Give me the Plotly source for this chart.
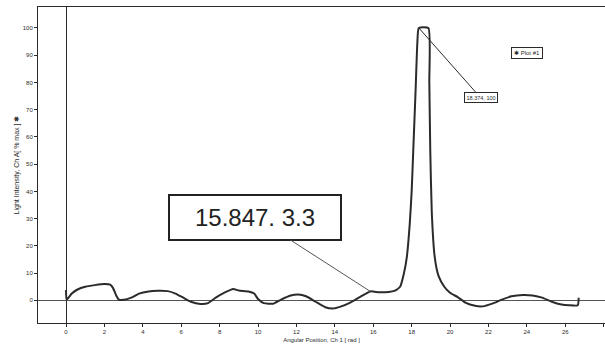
import plotly.graph_objects as go

# Angular scan of channel A light intensity (% of max)
angle = [0.0, 0.03, 0.3, 0.6, 1.0, 1.5, 2.0, 2.3, 2.45, 2.6, 2.75, 3.0, 3.4, 3.8,
         4.3, 4.8, 5.3, 5.7, 6.1, 6.5, 7.0, 7.4, 7.8, 8.3, 8.7, 9.0, 9.5, 9.8,
         10.0, 10.3, 10.8, 11.2, 11.7, 12.1, 12.5, 13.0, 13.5, 13.9, 14.3, 14.8,
         15.3, 15.847, 16.3, 16.8, 17.1, 17.4, 17.6, 17.75, 17.9, 18.0, 18.1,
         18.2, 18.3, 18.374, 18.87, 18.92, 18.97, 19.05, 19.2, 19.4, 19.7, 20.0,
         20.4, 20.8, 21.3, 21.7, 22.2, 22.7, 23.2, 23.8, 24.3, 24.8, 25.3, 25.8,
         26.2, 26.65, 26.7]
intensity = [3.8, 0.3, 2.5, 4.0, 5.0, 5.6, 6.0, 5.8, 4.5, 2.0, 0.3, 0.2, 1.0, 2.5,
             3.3, 3.5, 3.4, 2.5, 1.0, -0.5, -1.3, -1.0, 1.0, 3.0, 4.2, 3.6, 3.3, 2.5,
             0.5, -1.0, -1.2, 0.3, 1.8, 2.2, 1.5, -0.5, -2.5, -3.0, -2.3, -0.8,
             1.2, 3.3, 3.0, 3.1, 3.5, 5.0, 10, 16, 28, 40, 58,
             76, 95, 100, 100, 80, 55, 32, 16, 9, 5, 2.8,
             1.2, -0.8, -2.0, -2.2, -1.2, 0.3, 1.5, 2.0, 1.8, 1.0, -0.5, -1.5,
             -1.8, -1.8, 1.0]

x_ticks = list(range(0, 30, 2))
y_ticks = list(range(0, 110, 10))

peak_label = (18.374, 100)
marker_label = (15.847, 3.3)

ink = "#2b2b2b"
sans = "Liberation Sans, Arial, sans-serif"
small_font = dict(family=sans, size=6, color=ink)

fig = go.Figure()
fig.add_trace(go.Scatter(
    x=angle, y=intensity, mode="lines",
    line=dict(color=ink, width=2, shape="spline", smoothing=0.5),
    showlegend=False,
))

# Data-point call-outs
fig.add_annotation(
    x=peak_label[0], y=peak_label[1],
    text=f"{peak_label[0]}, {peak_label[1]}",
    showarrow=True, arrowhead=0, arrowwidth=1, arrowcolor=ink,
    ax=62, ay=70,
    font=dict(family=sans, size=5.5, color=ink),
    bordercolor=ink, borderwidth=1, borderpad=1.5, bgcolor="white",
)
fig.add_annotation(
    x=marker_label[0], y=marker_label[1],
    text=f"{marker_label[0]}. {marker_label[1]}",
    showarrow=True, arrowhead=0, arrowwidth=1, arrowcolor="#555555",
    ax=-115, ay=-74,
    font=dict(family=sans, size=24, color="#222222"),
    width=170, height=43,
    bordercolor="#222222", borderwidth=2, borderpad=0, bgcolor="white",
)

# Series key
fig.add_annotation(
    xref="paper", yref="paper", x=0.862, y=0.855,
    xanchor="center", yanchor="middle",
    text="✱ Plot #1", showarrow=False,
    font=dict(family=sans, size=6, color=ink),
    bordercolor=ink, borderwidth=1, borderpad=2, bgcolor="white",
)

fig.update_layout(
    width=605, height=344,
    margin=dict(l=38, r=0, t=7, b=21),
    paper_bgcolor="white", plot_bgcolor="white",
    showlegend=False,
    xaxis=dict(
        range=[-1.46, 28.07],
        tickvals=x_ticks, ticktext=[str(v) for v in x_ticks],
        ticks="outside", ticklen=3, tickcolor=ink, tickfont=small_font,
        showgrid=False, showline=True, linecolor=ink, linewidth=1, mirror=True,
        zeroline=True, zerolinecolor=ink, zerolinewidth=1,
        title=dict(text="Angular Position, Ch 1 [ rad ]", font=small_font, standoff=3),
        automargin=False,
    ),
    yaxis=dict(
        range=[-8.3, 107.7],
        tickvals=y_ticks, ticktext=[str(v) for v in y_ticks],
        ticks="outside", ticklen=3, tickcolor=ink, tickfont=small_font,
        showgrid=False, showline=True, linecolor=ink, linewidth=1, mirror=True,
        zeroline=True, zerolinecolor="#555555", zerolinewidth=1,
        title=dict(text="Light Intensity, Ch A[ % max ] ✱",
                   font=dict(family=sans, size=7, color=ink), standoff=2),
        automargin=False,
    ),
)

fig.write_html("out.html")
